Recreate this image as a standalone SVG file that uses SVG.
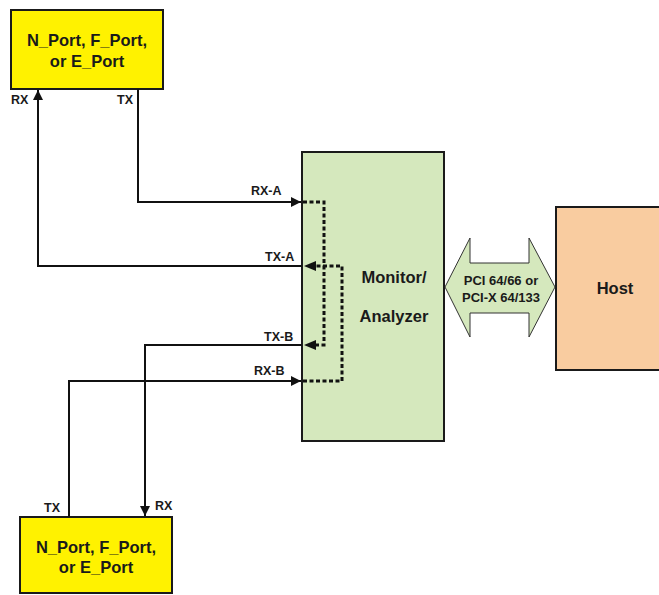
<svg xmlns="http://www.w3.org/2000/svg" width="659" height="595" viewBox="0 0 659 595">
<style>
text{font-family:"Liberation Sans",Arial,sans-serif;font-weight:bold;fill:#1a1a1a}
.port{fill:#fff200;stroke:#1a1a1a;stroke-width:2}
.mon{fill:#d5e8bd;stroke:#1a1a1a;stroke-width:2}
.host{fill:#f9cca0;stroke:#1a1a1a;stroke-width:2}
.ln{fill:none;stroke:#111;stroke-width:2}
.dash{fill:none;stroke:#111;stroke-width:3;stroke-dasharray:4 2.5}
.lbl{font-size:12.5px}
.big{font-size:16.5px;text-anchor:middle}
</style>
<defs>
<marker id="ah" viewBox="0 0 10 10" refX="10" refY="5" markerWidth="6" markerHeight="5" orient="auto" markerUnits="strokeWidth">
<path d="M0,0 L10,5 L0,10 z" fill="#111"/>
</marker>
</defs>
<rect width="659" height="595" fill="#fff"/>
<g id="portTop">
<rect class="port" x="11" y="10" width="152" height="79"/>
<text class="big" x="87" y="46">N_Port, F_Port,</text>
<text class="big" x="87" y="67">or E_Port</text>
</g>
<g id="portBottom">
<rect class="port" x="20" y="517" width="152" height="76"/>
<text class="big" x="96" y="553">N_Port, F_Port,</text>
<text class="big" x="96" y="573">or E_Port</text>
</g>
<g id="monitor">
<rect class="mon" x="302" y="152" width="142" height="289"/>
<text class="big" x="394" y="283">Monitor/</text>
<text class="big" x="394" y="322">Analyzer</text>
</g>
<g id="host">
<rect class="host" x="556" y="207" width="110" height="163"/>
<text class="big" x="615" y="294" font-size="17.5">Host</text>
</g>
<g id="pci">
<polygon points="445,287 470,238 470,263 529,263 529,238 555,287 529,337 529,313 470,313 470,337" fill="#d5e8bd" stroke="#333" stroke-width="1"/>
<text x="501" y="285" font-size="13" text-anchor="middle">PCI 64/66 or</text>
<text x="501" y="302" font-size="13" text-anchor="middle">PCI-X 64/133</text>
</g>
<g id="connectors">
<polyline class="ln" points="138,89 138,202 301,202" marker-end="url(#ah)"/>
<polyline class="ln" points="302,266 38,266 38,90" marker-end="url(#ah)"/>
<polyline class="ln" points="302,345 145,345 145,516" marker-end="url(#ah)"/>
<polyline class="ln" points="69,517 69,381 301,381" marker-end="url(#ah)"/>
<polyline class="dash" points="303,202 324,202 324,345 312,345"/>
<polyline class="dash" points="303,381 342,381 342,266 312,266"/>
<path d="M304,345 L316,340 L316,350 z" fill="#111"/>
<path d="M304,266 L316,261 L316,271 z" fill="#111"/>
</g>
<g id="labels">
<text class="lbl" x="11" y="104">RX</text>
<text class="lbl" x="117" y="104">TX</text>
<text class="lbl" x="251" y="195">RX-A</text>
<text class="lbl" x="265" y="261">TX-A</text>
<text class="lbl" x="264" y="341">TX-B</text>
<text class="lbl" x="254" y="375">RX-B</text>
<text class="lbl" x="44" y="512">TX</text>
<text class="lbl" x="155" y="510">RX</text>
</g>
</svg>
